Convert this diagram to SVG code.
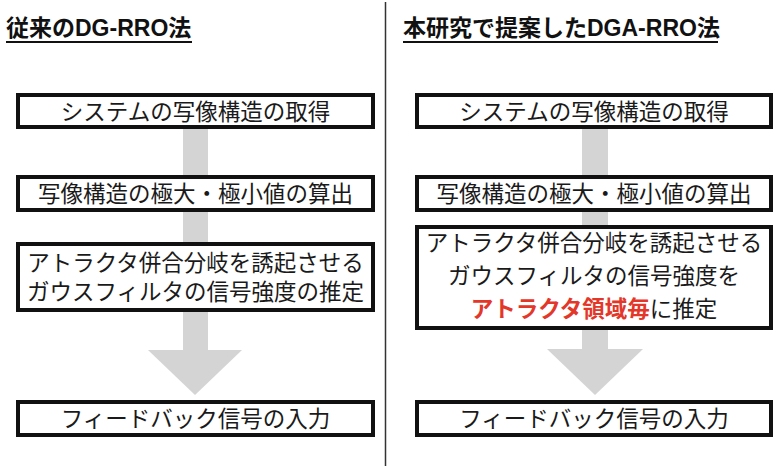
<svg xmlns="http://www.w3.org/2000/svg" width="776" height="466" viewBox="0 0 776 466">
<style>
.title{font-family:"Liberation Sans","Noto Sans CJK JP",sans-serif;font-weight:bold;font-size:23px;fill:#111}
.box{fill:#fff;stroke:#111;stroke-width:4}
.t{font-family:"Noto Sans CJK JP",sans-serif;font-size:22.5px;fill:#1a1a1a;text-anchor:middle}
.red{fill:#e3372a;font-weight:bold}
.arrow{fill:#d4d4d4}
</style>
<rect width="776" height="466" fill="#fff"/>
<g id="connectors">
<rect class="arrow" x="183" y="129" width="25" height="222"/>
<polygon class="arrow" points="148,350 242,350 195,395"/>
<rect class="arrow" x="582" y="129" width="26" height="221"/>
<polygon class="arrow" points="547,349 643,349 595,395"/>
</g>
<line x1="385.5" y1="2" x2="385.5" y2="466" stroke="#333" stroke-width="1.5"/>
<g id="title-left">
<text class="title" x="6" y="36">従来のDG-RRO法</text>
<line x1="6" y1="42" x2="192" y2="42" stroke="#111" stroke-width="2"/>
</g>
<g id="title-right">
<text class="title" x="403" y="36">本研究で提案したDGA-RRO法</text>
<line x1="403" y1="42" x2="718" y2="42" stroke="#111" stroke-width="2"/>
</g>
<g id="L1"><rect class="box" x="18" y="95" width="355" height="32"/><text class="t" x="195.5" y="119.5">システムの写像構造の取得</text></g>
<g id="L2"><rect class="box" x="18" y="177" width="355" height="33"/><text class="t" x="195.5" y="201.5">写像構造の極大・極小値の算出</text></g>
<g id="L3"><rect class="box" x="18" y="244" width="355" height="66"/><text class="t" x="195.5" y="271">アトラクタ併合分岐を誘起させる</text><text class="t" x="195.5" y="300">ガウスフィルタの信号強度の推定</text></g>
<g id="L4"><rect class="box" x="18" y="402" width="355" height="33"/><text class="t" x="195.5" y="427">フィードバック信号の入力</text></g>
<g id="R1"><rect class="box" x="417" y="95" width="354" height="32"/><text class="t" x="594" y="119.5">システムの写像構造の取得</text></g>
<g id="R2"><rect class="box" x="417" y="177" width="354" height="33"/><text class="t" x="594" y="201.5">写像構造の極大・極小値の算出</text></g>
<g id="R3"><rect class="box" x="417" y="227" width="354" height="101"/><text class="t" x="594" y="250.5">アトラクタ併合分岐を誘起させる</text><text class="t" x="594" y="284">ガウスフィルタの信号強度を</text><text class="t" x="594" y="317"><tspan class="red">アトラクタ領域毎</tspan>に推定</text></g>
<g id="R4"><rect class="box" x="417" y="402" width="354" height="33"/><text class="t" x="594" y="427">フィードバック信号の入力</text></g>
</svg>
